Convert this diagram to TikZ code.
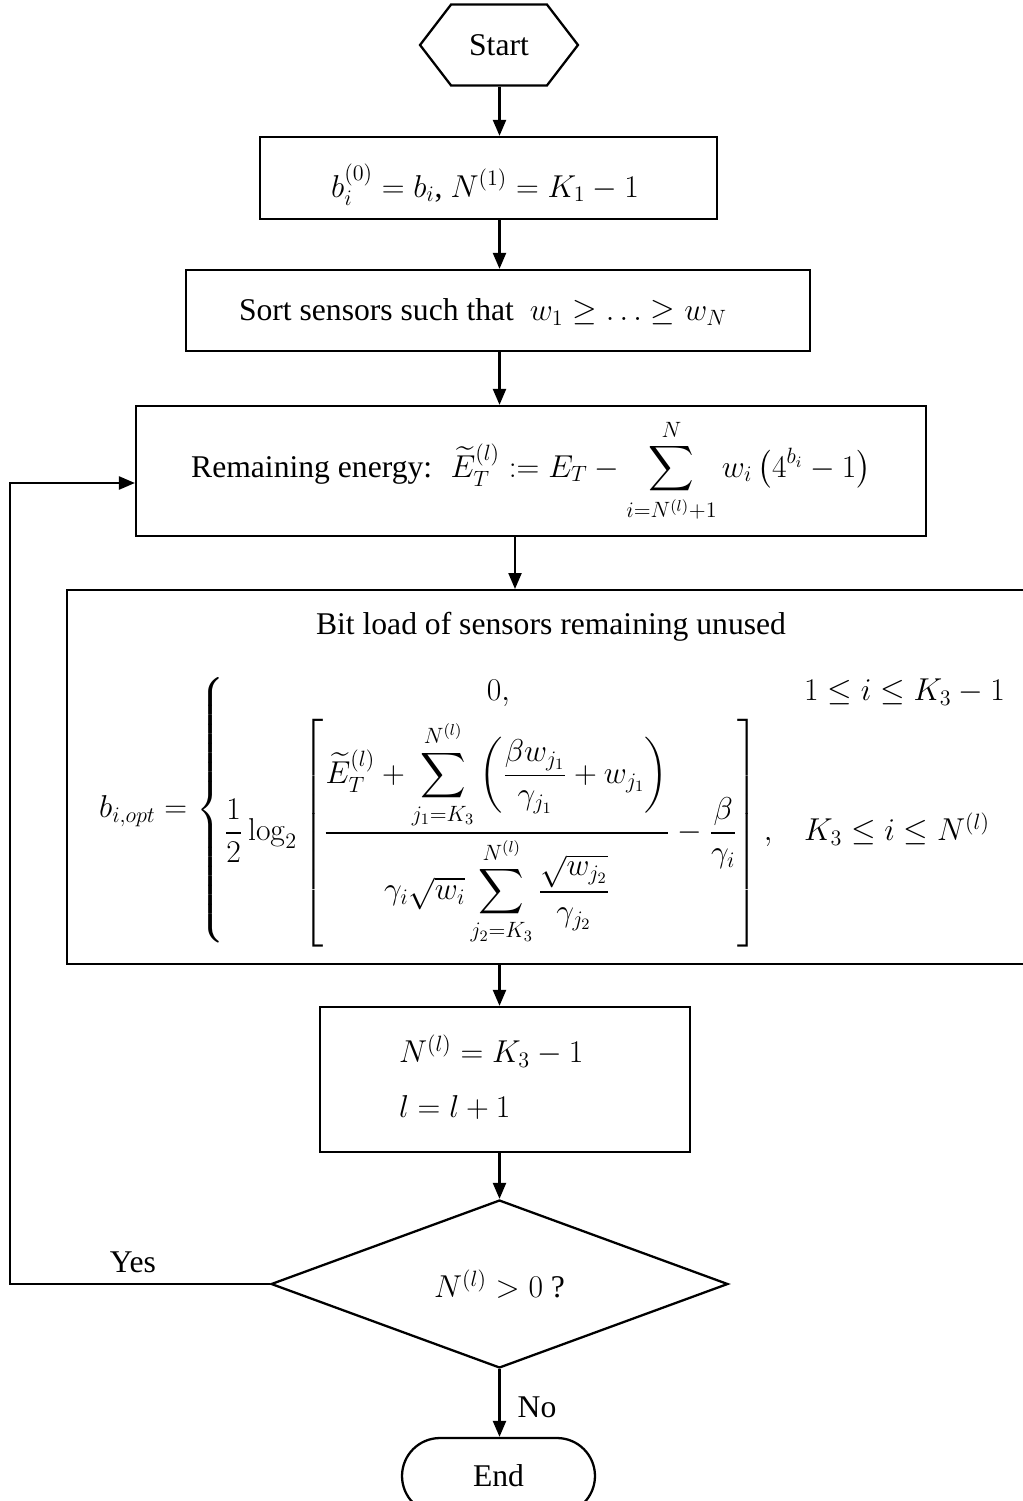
\RequirePackage{fix-cm}
\documentclass[tikz,border=0pt]{standalone}
\usepackage{amsmath,amssymb}
\usepackage[no-math]{fontspec}
\setmainfont{Liberation Serif}
\usepackage{tikz}
\usetikzlibrary{arrows.meta,positioning,shapes.geometric,shapes.symbols,calc}

\begin{document}
\begin{tikzpicture}[x=0.02cm,y=-0.02cm,line width=1.3pt,
    font=\fontsize{18}{22}\selectfont,
    proc/.style={draw,rectangle,inner sep=0pt},
    arr/.style={-{Triangle[length=0.32cm,width=0.26cm]}}]
  \useasboundingbox (0,0) rectangle (1023,1501);
  \clip (0,0) rectangle (1023,1501);

  % terminals
  \node[draw,signal,signal to=west and east,signal pointer angle=105,
        minimum width=3.16cm,minimum height=1.62cm,inner sep=0pt] (start) at (499,45) {Start};
  \node[draw,rounded corners=0.76cm,minimum width=3.86cm,minimum height=1.52cm] (stop) at (498.5,1476) {End};

  % process boxes
  \node[proc,minimum width=9.14cm,minimum height=1.64cm] (init) at (488.5,178) {};
  \node (inittext) at (485,185) {$b_i^{(0)} = b_i$, $N^{(1)} = K_1 - 1$};
  \node[proc,minimum width=12.48cm,minimum height=1.62cm] (sortbox) at (498,310.5) {};
  \node (sorttext) at (483,312) {Sort sensors such that \ $w_1 \ge \ldots \ge w_N$};
  \node[proc,minimum width=15.8cm,minimum height=2.6cm] (energy) at (531,471)
    {Remaining energy: \ $\widetilde{E}_T^{(l)} \mathrel{:=} E_T - \displaystyle\sum_{i=N^{(l)}+1}^{N} w_i\left(4^{b_i} - 1\right)$};
  \node[proc,minimum width=19.5cm,minimum height=7.48cm,anchor=north west] (bitload) at (66,589) {};
  \node (bittitle) at (551,627) {Bit load of sensors remaining unused};
  \node (formula) at (553,810) {$\displaystyle b_{i,opt} = \left\{\begin{array}{@{}c@{\quad}l@{}}
      0, & 1 \le i \le K_3 - 1\\[0.5ex]
      \displaystyle\frac{1}{2}\log_2\left[\frac{\widetilde{E}_T^{(l)} + \displaystyle\sum_{j_1=K_3}^{N^{(l)}}\left(\frac{\beta w_{j_1}}{\gamma_{j_1}} + w_{j_1}\right)}{\gamma_i\sqrt{w_i}\displaystyle\sum_{j_2=K_3}^{N^{(l)}}\frac{\sqrt{w_{j_2}}}{\gamma_{j_2}}} - \frac{\beta}{\gamma_i}\right], & K_3 \le i \le N^{(l)}
    \end{array}\right.$};
  \node[proc,minimum width=7.4cm,minimum height=2.9cm] (update) at (505,1079.5) {};
  \node[align=left,anchor=west] (updtext) at (392,1077) {$N^{(l)} = K_3 - 1$\\[9pt] $l = l + 1$};

  % decision
  \node[draw,diamond,aspect=2.7,minimum width=9.14cm,minimum height=3.36cm,inner sep=0pt] (check) at (499.5,1284) {$N^{(l)} > 0$ ?};

  % connectors
  \draw[arr] (start.south -| check) -- (init.north -| check);
  \draw[arr] (init.south -| check) -- (sortbox.north -| check);
  \draw[arr] (sortbox.south -| check) -- (energy.north -| check);
  \draw[arr] ([xshift=-0.32cm]energy.south) -- ([xshift=-0.32cm]energy.south |- bitload.north);
  \draw[arr] (bitload.south -| check) -- (update.north -| check);
  \draw[arr] (update.south -| check) -- (check.north);
  \draw[arr] (check.south) -- (stop.north -| check);
  \coordinate (back) at (10,1284);
  \draw[arr] (check.west) -- (back) |- ([yshift=-0.24cm]energy.west);
  \node (yes) at (133,1262) {Yes};
  \node (no) at (537,1407) {No};
\end{tikzpicture}
\end{document}
